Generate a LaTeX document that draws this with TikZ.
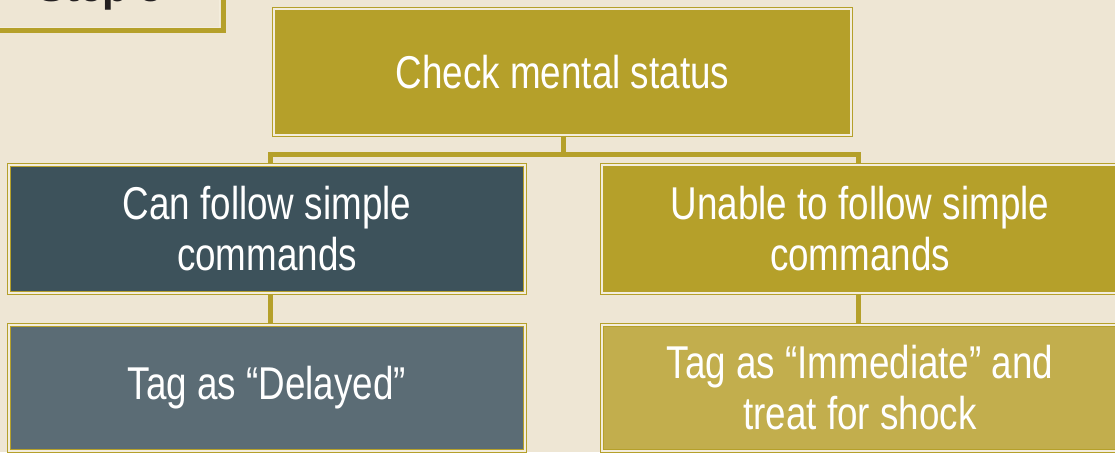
\documentclass[tikz,border=0pt]{standalone}
\usepackage{fontspec}
\setmainfont{Liberation Sans}
\newfontfamily\condfont[FakeStretch=0.8]{Liberation Sans}
\definecolor{bgc}{HTML}{EEE6D4}
\definecolor{goldc}{HTML}{B5A02A}
\definecolor{lightgold}{HTML}{C2AE4D}
\definecolor{slatedark}{HTML}{3D525B}
\definecolor{slatelight}{HTML}{5B6C75}
\definecolor{creamline}{HTML}{F3EDDD}
\definecolor{stepink}{HTML}{231F20}
\tikzset{
  box/.style={draw=goldc, line width=1.5pt, double=creamline, double distance=1.3pt,
    text=white, align=center, inner sep=0pt,
    font=\condfont\fontsize{46}{51}\selectfont},
  conn/.style={draw=goldc, line width=5pt, line join=miter},
}
\begin{document}
\begin{tikzpicture}[x=1pt,y=-1pt]
\fill[bgc] (0,0) rectangle (1115,452);
\useasboundingbox (0,0) rectangle (1115,452);
% Step box (cut off at top)
\draw[goldc, line width=5pt] (-10,-60) rectangle (223.5,30.5);
\draw[creamline, line width=1pt] (-10,-60) rectangle (219.5,27.5);
\node[anchor=base west, text=stepink, font=\bfseries\fontsize{42}{50}\selectfont, inner sep=0pt] (step) at (37,2) {Step 5};
% boxes
\node[box, fill=goldc, minimum width=577pt, minimum height=126pt] (top) at (562.5,72) {Check mental status};
\node[box, fill=slatedark, minimum width=516pt, minimum height=128pt] (left) at (267,229) {Can follow simple\\commands};
\node[box, fill=goldc, minimum width=516pt, minimum height=128pt] (right) at (860,229) {Unable to follow simple\\commands};
\node[box, fill=slatelight, minimum width=516pt, minimum height=126pt] (dl) at (267,388) {Tag as “Delayed”};
\node[box, fill=lightgold, minimum width=516pt, minimum height=126pt] (dr) at (860,388) {Tag as “Immediate” and\\treat for shock};
% connectors
\coordinate (bar) at (563.5,154.5);
\draw[conn] ([xshift=1pt]top.south) -- (bar) -| ([xshift=3pt]left.north);
\draw[conn] (bar) -| ([xshift=-2pt]right.north);
\draw[conn] ([xshift=3pt]left.south) -- ([xshift=3pt]dl.north);
\draw[conn] ([xshift=-2pt]right.south) -- ([xshift=-2pt]dr.north);
\end{tikzpicture}
\end{document}
